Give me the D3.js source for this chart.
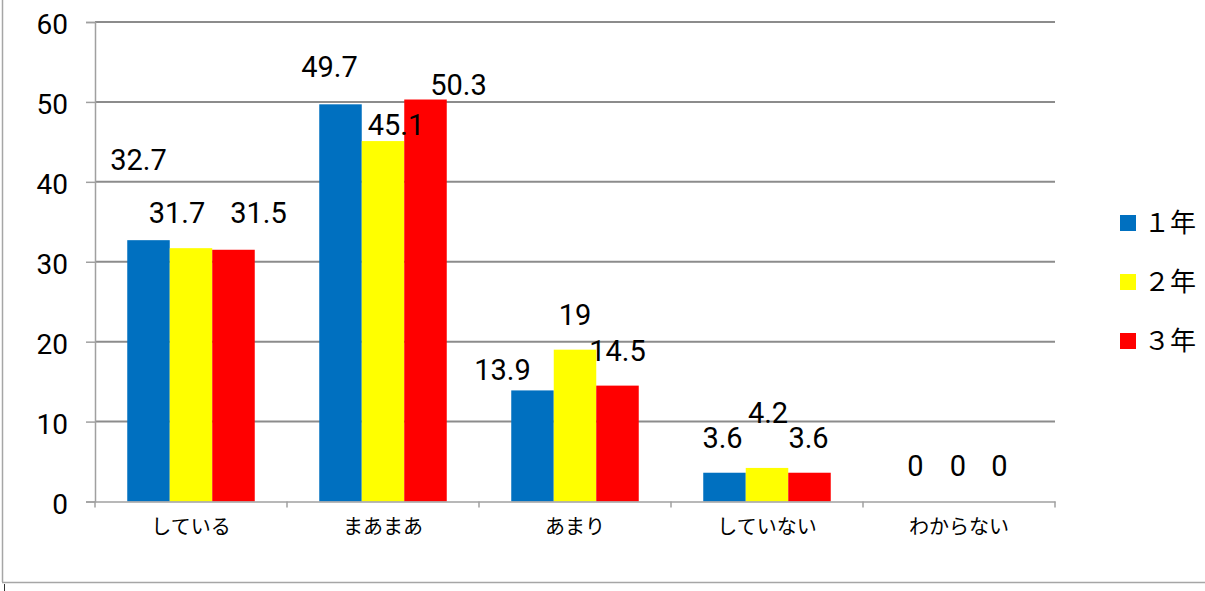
<!DOCTYPE html>
<html>
<head>
<meta charset="utf-8">
<script src="https://cdn.jsdelivr.net/npm/d3@7"></script>
<style>
  body { margin: 0; background: #fff; }
  svg { display: block; }
</style>
</head>
<body>
<div id="chart"></div>
<script>
// data
var categories = ["している", "まあまあ", "あまり", "していない", "わからない"];
var seriesNames = ["１年", "２年", "３年"];
var year1 = [32.7, 49.7, 13.9, 3.6, 0];
var year2 = [31.7, 45.1, 19, 4.2, 0];
var year3 = [31.5, 50.3, 14.5, 3.6, 0];
var yTicks = [0, 10, 20, 30, 40, 50, 60];

var colors = ["#0070C0", "#FFFF00", "#FF0000"];

// label placement tweaks (Excel moved some labels by hand) [dx, dy] per series / category
var labelNudge = [
  [[-10, -81], [-11, -38], [-30, -21], [-2, -35], [-1, -36]],
  [[-14, -36], [13, -17], [0, -35], [1, -55], [-1, -36]],
  [[25, -37], [33, -15], [0, -35], [-1, -35], [-2, -36]]
];

var svgWidth = 1205;
var svgHeight = 591;
var margin = { top: 22, right: 150, bottom: 90, left: 95 };
var width = 1055 - margin.left;
var height = 501.5 - margin.top;

var svg = d3.select("#chart")
  .append("svg")
  .attr("width", svgWidth)
  .attr("height", svgHeight);

// outer frame
svg.append("line").attr("x1", 2.5).attr("x2", 2.5).attr("y1", 0).attr("y2", 582)
  .attr("stroke", "#a6a6a6").attr("stroke-width", 1.5);
svg.append("line").attr("x1", 2).attr("x2", svgWidth).attr("y1", 582.5).attr("y2", 582.5)
  .attr("stroke", "#a6a6a6").attr("stroke-width", 1.5);
svg.append("line").attr("x1", 4.5).attr("x2", 4.5).attr("y1", 584).attr("y2", svgHeight)
  .attr("stroke", "#333").attr("stroke-width", 1);

var chartGroup = svg.append("g")
  .attr("transform", `translate(${margin.left}, ${margin.top})`);

var xScale = d3.scaleBand()
  .domain(categories)
  .range([0, width]);

var seriesData = [year1, year2, year3];
var barW = 42.5;
var xInner = d3.scaleBand()
  .domain(seriesNames)
  .range([0, barW * 3]);

var yScale = d3.scaleLinear()
  .domain([0, 60])
  .range([height, 0]);

// gridlines
chartGroup.append("g")
  .selectAll("line")
  .data(yTicks.filter(d => d > 0))
  .enter()
  .append("line")
  .attr("x1", 0)
  .attr("x2", width)
  .attr("y1", d => yScale(d))
  .attr("y2", d => yScale(d))
  .attr("stroke", "#8c8c8c")
  .attr("stroke-width", 2);

// bars
seriesData.forEach(function(vals, si) {
  chartGroup.append("g")
    .selectAll("rect")
    .data(vals)
    .enter()
    .append("rect")
    .attr("x", (d, i) => xScale(categories[i]) + (xScale.bandwidth() - barW * 3) / 2 + xInner(seriesNames[si]))
    .attr("y", d => yScale(d))
    .attr("width", barW)
    .attr("height", d => height - yScale(d))
    .attr("fill", colors[si]);
});

// left axis
var leftAxis = d3.axisLeft(yScale).tickValues(yTicks).tickSize(9).tickPadding(18);
var yAxisG = chartGroup.append("g").call(leftAxis);
yAxisG.select(".domain").attr("stroke", "#a0a0a0").attr("stroke-width", 1.5);
yAxisG.selectAll(".tick line").attr("stroke", "#a0a0a0").attr("stroke-width", 1.5);
yAxisG.selectAll(".tick text")
  .attr("dy", "0.42em")
  .style("font-family", "Roboto, 'Liberation Sans', sans-serif")
  .style("font-size", "28px")
  .attr("fill", "#000");

// bottom axis
var bottomAxis = d3.axisBottom(xScale).tickSize(0).tickPadding(18);
var xAxisG = chartGroup.append("g")
  .attr("transform", `translate(0, ${height})`)
  .call(bottomAxis);
xAxisG.select(".domain").attr("stroke", "#a0a0a0").attr("stroke-width", 1.5);
xAxisG.selectAll(".tick text")
  .style("font-family", "'Noto Sans CJK JP', sans-serif")
  .style("font-size", "20px")
  .attr("fill", "#000");
xAxisG.selectAll(".sep")
  .data(d3.range(categories.length + 1))
  .enter()
  .append("line")
  .attr("class", "sep")
  .attr("x1", i => i * xScale.bandwidth())
  .attr("x2", i => i * xScale.bandwidth())
  .attr("y1", 0)
  .attr("y2", 6)
  .attr("stroke", "#a0a0a0")
  .attr("stroke-width", 1.5);

// data labels
seriesData.forEach(function(vals, si) {
  chartGroup.append("g")
    .selectAll("text")
    .data(vals)
    .enter()
    .append("text")
    .attr("x", (d, i) => xScale(categories[i]) + (xScale.bandwidth() - barW * 3) / 2 + xInner(seriesNames[si]) + barW / 2 + labelNudge[si][i][0])
    .attr("y", (d, i) => yScale(d) + labelNudge[si][i][1])
    .attr("dy", "0.36em")
    .attr("text-anchor", "middle")
    .style("font-family", "Roboto, 'Liberation Sans', sans-serif")
    .style("font-size", "29px")
    .attr("fill", "#000")
    .text(d => d);
});

// legend
var legend = svg.append("g")
  .attr("transform", "translate(1120, 223)");
var legendItems = legend.selectAll("g")
  .data(seriesNames)
  .enter()
  .append("g")
  .attr("transform", (d, i) => `translate(0, ${i * 59})`);
legendItems.append("rect")
  .attr("x", 0)
  .attr("y", -8)
  .attr("width", 16)
  .attr("height", 16)
  .attr("fill", (d, i) => colors[i]);
legendItems.append("text")
  .attr("x", 24)
  .attr("y", 0)
  .attr("dy", "0.36em")
  .style("font-family", "'Noto Sans CJK JP', sans-serif")
  .style("font-size", "26px")
  .attr("fill", "#000")
  .text(d => d);
</script>
</body>
</html>
